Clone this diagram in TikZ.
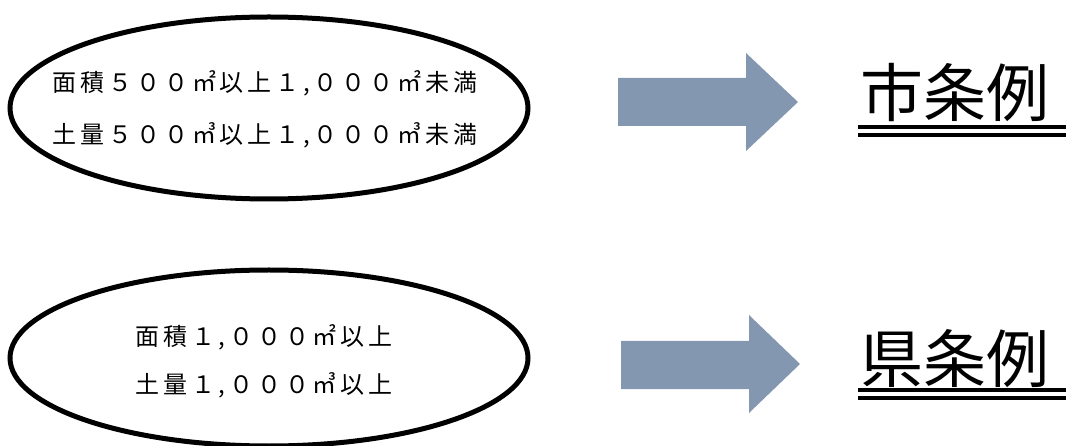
\documentclass[tikz,border=0pt]{standalone}
\usepackage{fontspec}
\newfontfamily\jp{Noto Sans CJK JP}
\newfontfamily\jpsp{Noto Sans CJK JP}[LetterSpace=16]
\usetikzlibrary{shapes.geometric}
\definecolor{arrowfill}{HTML}{8497B0}
\tikzset{
  cond/.style={draw=black, line width=5pt, ellipse, inner sep=0pt},
  condtext/.style={inner sep=0pt, font=\jpsp\fontsize{24}{24}\selectfont},
  bigarrow/.style={fill=arrowfill, draw=none},
  lawlabel/.style={anchor=base west, inner sep=0pt, font=\jp\fontsize{63}{63}\selectfont},
  uline/.style={line width=4pt, black}
}
\begin{document}
\begin{tikzpicture}[x=1pt,y=-1pt]
\useasboundingbox (0,0) rectangle (1066,446);
% conditions
\node[cond, minimum width=518pt, minimum height=182pt] (c1) at (269,108) {};
\node[condtext] (t1a) at (265,83) {面積５００㎡以上１,０００㎡未満};
\node[condtext] (t1b) at (265,135) {土量５００㎥以上１,０００㎥未満};
\node[cond, minimum width=518pt, minimum height=176pt] (c2) at (269,358) {};
\node[condtext] (t2a) at (264,337) {面積１,０００㎡以上};
\node[condtext] (t2b) at (264,385) {土量１,０００㎥以上};
% arrows
\fill[bigarrow] (618,78) -- (746,78) -- (746,53) -- (798,102) -- (746,151) -- (746,126) -- (618,126) -- cycle;
\fill[bigarrow] (621,341) -- (749,341) -- (749,315) -- (800,364) -- (749,413) -- (749,389) -- (621,389) -- cycle;
% labels
\node[lawlabel] (l1) at (860,117) {市条例};
\node[lawlabel] (l2) at (860,382) {県条例};
\coordinate (u1a) at (858,127); \coordinate (u1b) at (1066,127);
\coordinate (u1c) at (858,135); \coordinate (u1d) at (1066,135);
\coordinate (u2a) at (858,390); \coordinate (u2b) at (1066,390);
\coordinate (u2c) at (858,398); \coordinate (u2d) at (1066,398);
\draw[uline] (u1a) -- (u1b);
\draw[uline] (u1c) -- (u1d);
\draw[uline] (u2a) -- (u2b);
\draw[uline] (u2c) -- (u2d);
\end{tikzpicture}
\end{document}
